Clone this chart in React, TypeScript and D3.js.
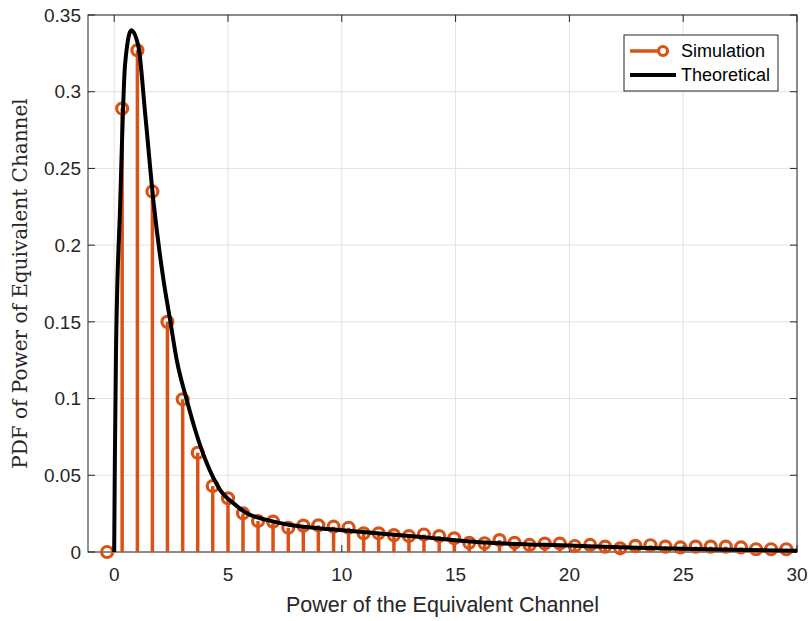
import React, { useEffect, useRef } from 'react';
import * as d3 from 'd3';

// simulated histogram (bin centers + pdf values)
const simX = [
  -0.31, 0.35, 1.02, 1.68, 2.34, 3.01, 3.67, 4.33, 5.0, 5.66, 6.32, 6.98, 7.65, 8.31, 8.97, 9.64,
  10.3, 10.96, 11.62, 12.29, 12.95, 13.61, 14.28, 14.94, 15.6, 16.27, 16.93, 17.59, 18.25, 18.92,
  19.58, 20.24, 20.91, 21.57, 22.23, 22.9, 23.56, 24.22, 24.88, 25.55, 26.21, 26.87, 27.54, 28.2,
  28.86, 29.53,
];
const simY = [
  0, 0.289, 0.327, 0.235, 0.15, 0.0995, 0.0647, 0.043, 0.035, 0.0252, 0.0202, 0.0198, 0.0158,
  0.0172, 0.0174, 0.0165, 0.0158, 0.0122, 0.0122, 0.011, 0.0104, 0.0114, 0.0104, 0.0089, 0.006,
  0.0057, 0.0078, 0.006, 0.0046, 0.0055, 0.0055, 0.0039, 0.0046, 0.0035, 0.0024, 0.004, 0.0044,
  0.0035, 0.003, 0.0035, 0.0035, 0.0035, 0.003, 0.0018, 0.0018, 0.0018,
];

// theoretical curve
const theoX = [
  0, 0.03, 0.08, 0.26, 0.48, 0.75, 1.07, 1.36, 1.73, 2.17, 2.46, 2.75, 3.19, 3.56, 4.07, 4.66,
  5.24, 5.83, 6.7, 7.73, 8.75, 9.9, 13, 16.5, 20, 23, 26.5, 30,
];
const theoY = [
  0, 0.06, 0.13, 0.225, 0.318, 0.34, 0.329, 0.286, 0.228, 0.177, 0.151, 0.125, 0.099, 0.0795,
  0.0578, 0.0404, 0.0317, 0.0252, 0.0209, 0.0176, 0.0158, 0.0143, 0.0104, 0.006, 0.0042, 0.0028,
  0.0016, 0.0008,
];

const xTicks = [0, 5, 10, 15, 20, 25, 30];
const yTicks = [0, 0.05, 0.1, 0.15, 0.2, 0.25, 0.3, 0.35];
const legendLabels = ['Simulation', 'Theoretical'];

const W = 812;
const H = 621;
const ORANGE = '#D95319';
const AX = '#262626';
const FONT = '"Liberation Sans", Arial, Helvetica, sans-serif';

function App() {
  const svgRef = useRef<SVGSVGElement>(null);

  useEffect(() => {
    const svg = d3.select(svgRef.current);
    svg.selectAll('*').remove();

    const left = 88, right = 797, top = 15, bottom = 552;
    const x = d3.scaleLinear().domain([-1.15, 30]).range([left, right]);
    const y = d3.scaleLinear().domain([0, 0.35]).range([bottom, top]);

    svg.append('rect').attr('width', W).attr('height', H).attr('fill', '#fff');

    // grid
    const grid = svg.append('g');
    grid.selectAll('line.gx')
      .data(xTicks)
      .join('line')
      .attr('x1', d => x(d)).attr('x2', d => x(d))
      .attr('y1', top).attr('y2', bottom)
      .attr('stroke', '#e3e3e3').attr('stroke-width', 1);
    grid.selectAll('line.gy')
      .data(yTicks)
      .join('line')
      .attr('class', 'gy')
      .attr('x1', left).attr('x2', right)
      .attr('y1', d => y(d)).attr('y2', d => y(d))
      .attr('stroke', '#e3e3e3').attr('stroke-width', 1);

    // axes box + inward ticks
    const axes = svg.append('g').attr('stroke', AX).attr('stroke-width', 1).attr('fill', 'none');
    axes.append('rect')
      .attr('x', left).attr('y', top)
      .attr('width', right - left).attr('height', bottom - top);
    const tl = 7;
    xTicks.forEach(t => {
      axes.append('line').attr('x1', x(t)).attr('x2', x(t)).attr('y1', bottom).attr('y2', bottom - tl);
      axes.append('line').attr('x1', x(t)).attr('x2', x(t)).attr('y1', top).attr('y2', top + tl);
    });
    yTicks.forEach(t => {
      axes.append('line').attr('x1', left).attr('x2', left + tl).attr('y1', y(t)).attr('y2', y(t));
      axes.append('line').attr('x1', right).attr('x2', right - tl).attr('y1', y(t)).attr('y2', y(t));
    });

    // tick labels
    svg.append('g')
      .selectAll('text')
      .data(xTicks)
      .join('text')
      .attr('x', d => x(d))
      .attr('y', 581)
      .attr('text-anchor', 'middle')
      .attr('font-family', FONT)
      .attr('font-size', 19)
      .attr('fill', AX)
      .text(d => String(d));

    svg.append('g')
      .selectAll('text')
      .data(yTicks)
      .join('text')
      .attr('x', 81)
      .attr('y', d => y(d))
      .attr('dy', '0.35em')
      .attr('text-anchor', 'end')
      .attr('font-family', FONT)
      .attr('font-size', 19)
      .attr('fill', AX)
      .text(d => String(+d.toFixed(2)));

    // axis labels
    svg.append('text')
      .attr('x', (left + right) / 2)
      .attr('y', 612)
      .attr('text-anchor', 'middle')
      .attr('font-family', FONT)
      .attr('font-size', 21.5)
      .attr('fill', AX)
      .text('Power of the Equivalent Channel');

    svg.append('text')
      .attr('transform', `translate(27, ${(top + bottom) / 2}) rotate(-90)`)
      .attr('text-anchor', 'middle')
      .attr('font-family', '"DejaVu Serif", serif')
      .attr('font-size', 20)
      .attr('fill', AX)
      .text('PDF of Power of Equivalent Channel');

    // stems
    const pts = simX.map((v, i) => ({ x: v, y: simY[i] }));
    svg.append('g')
      .selectAll('line')
      .data(pts)
      .join('line')
      .attr('x1', d => x(d.x)).attr('x2', d => x(d.x))
      .attr('y1', y(0)).attr('y2', d => y(d.y))
      .attr('stroke', ORANGE).attr('stroke-width', 3.5);
    svg.append('g')
      .selectAll('circle')
      .data(pts)
      .join('circle')
      .attr('cx', d => x(d.x)).attr('cy', d => y(d.y))
      .attr('r', 5.5)
      .attr('fill', 'none')
      .attr('stroke', ORANGE).attr('stroke-width', 3.2);

    // theoretical curve
    const line = d3.line<number>()
      .x((d, i) => x(theoX[i]))
      .y(d => y(d))
      .curve(d3.curveMonotoneX);
    svg.append('path')
      .attr('d', line(theoY) as string)
      .attr('fill', 'none')
      .attr('stroke', '#000')
      .attr('stroke-width', 4);

    // legend
    const lg = svg.append('g');
    lg.append('rect')
      .attr('x', 624).attr('y', 35)
      .attr('width', 154).attr('height', 56)
      .attr('fill', '#fff').attr('stroke', AX).attr('stroke-width', 1);
    lg.append('line')
      .attr('x1', 630).attr('x2', 660).attr('y1', 51).attr('y2', 51)
      .attr('stroke', ORANGE).attr('stroke-width', 3.5);
    lg.append('circle')
      .attr('cx', 663).attr('cy', 51).attr('r', 4.5)
      .attr('fill', 'none').attr('stroke', ORANGE).attr('stroke-width', 3.2);
    lg.append('line')
      .attr('x1', 630).attr('x2', 676).attr('y1', 75).attr('y2', 75)
      .attr('stroke', '#000').attr('stroke-width', 4);
    lg.selectAll('text')
      .data(legendLabels)
      .join('text')
      .attr('x', 681)
      .attr('y', (d, i) => 51 + i * 24)
      .attr('dy', '0.35em')
      .attr('font-family', FONT)
      .attr('font-size', 18)
      .attr('fill', '#000')
      .text(d => d);
  }, []);

  return (
    <div style={{ position: 'absolute', left: 0, top: 0 }}>
      <svg ref={svgRef} width={W} height={H} style={{ display: 'block' }}></svg>
    </div>
  );
}

export default App;
